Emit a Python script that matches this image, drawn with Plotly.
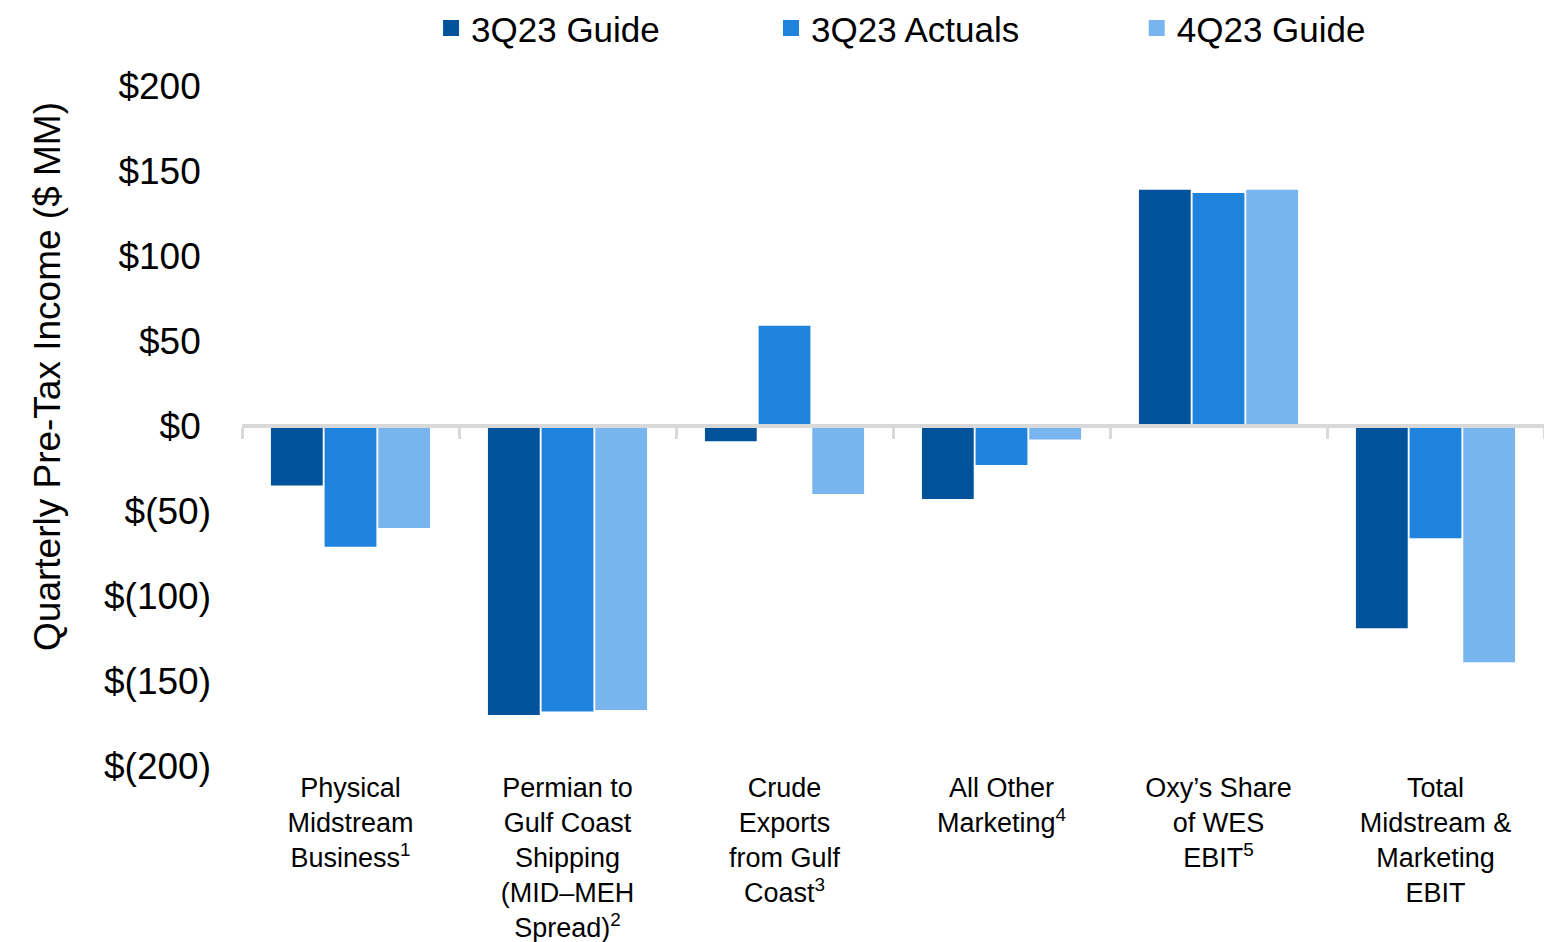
import plotly.graph_objects as go

categories = [
    "Physical<br>Midstream<br>Business<sup>1</sup>",
    "Permian to<br>Gulf Coast<br>Shipping<br>(MID–MEH<br>Spread)<sup>2</sup>",
    "Crude<br>Exports<br>from Gulf<br>Coast<sup>3</sup>",
    "All Other<br>Marketing<sup>4</sup>",
    "Oxy’s Share<br>of WES<br>EBIT<sup>5</sup>",
    "Total<br>Midstream &<br>Marketing<br>EBIT",
]
series_names = ["3Q23 Guide", "3Q23 Actuals", "4Q23 Guide"]
guide_3q23 = [-35, -170, -9, -43, 139, -119]
actuals_3q23 = [-71, -168, 59, -23, 137, -66]
guide_4q23 = [-60, -167, -40, -8, 139, -139]
tick_vals = [200, 150, 100, 50, 0, -50, -100, -150, -200]
tick_text = ["$200\u00a0", "$150\u00a0", "$100\u00a0", "$50\u00a0", "$0\u00a0",
             "$(50)", "$(100)", "$(150)", "$(200)"]
y_title = "Quarterly Pre-Tax Income ($ MM)"

colors = ["#00539B", "#1F83DE", "#78B4EE"]
series_values = [guide_3q23, actuals_3q23, guide_4q23]
legend_ids = ["legend", "legend2", "legend3"]

FONT = "Liberation Sans, Arial, sans-serif"

fig = go.Figure()
for name, vals, col in zip(series_names, series_values, colors):
    fig.add_trace(go.Bar(
        x=categories, y=vals, name=name,
        marker=dict(color=col, line=dict(width=0)),
        showlegend=False,
    ))

# legend entries (square swatches)
for name, col, lg in zip(series_names, colors, legend_ids):
    fig.add_trace(go.Scatter(
        x=[None], y=[None], name=name, mode="markers",
        marker=dict(symbol="square", size=16, color=col),
        legend=lg, hoverinfo="skip",
    ))

# invisible trace carrying the categories for the zero-line axis
fig.add_trace(go.Scatter(x=categories, y=[0] * len(categories), xaxis="x2",
                         mode="none", showlegend=False, hoverinfo="skip"))

n = len(categories)
legend_common = dict(y=1.085, xanchor="left", yanchor="middle", orientation="h",
                     font=dict(size=35), bgcolor="rgba(0,0,0,0)")
fig.update_layout(
    width=1544, height=942,
    margin=dict(l=242, r=0, t=86, b=176, autoexpand=False),
    paper_bgcolor="white", plot_bgcolor="white",
    font=dict(family=FONT, color="black"),
    barmode="group", bargap=0.258, bargroupgap=0.035,
    xaxis=dict(
        type="category", range=[-0.5, n - 0.5], automargin=False,
        showline=False, showgrid=False, zeroline=False, ticks="",
        tickfont=dict(size=27, color="black"), tickangle=0,
        ticklabelstandoff=3,
    ),
    xaxis2=dict(
        type="category", overlaying="x", anchor="free", position=0.5,
        range=[-0.5, n - 0.5], side="bottom", automargin=False,
        showline=True, linecolor="#D9D9D9", linewidth=4,
        ticks="outside", tickson="boundaries", ticklen=11, tickwidth=3,
        tickcolor="#D9D9D9", showticklabels=False, showgrid=False,
        layer="above traces",
    ),
    yaxis=dict(
        range=[-200, 200], tickvals=tick_vals, ticktext=tick_text,
        automargin=False,
        showgrid=False, zeroline=False, showline=False, ticks="",
        tickfont=dict(size=37, color="black"), ticklabelstandoff=30,
    ),
    annotations=[dict(
        text=y_title, xref="paper", yref="paper", x=-0.1498, y=0.5735,
        xanchor="center", yanchor="middle", textangle=-90, showarrow=False,
        font=dict(size=37, color="black"),
    )],
    legend=dict(x=0.1452, **legend_common),
    legend2=dict(x=0.4063, **legend_common),
    legend3=dict(x=0.6872, **legend_common),
)

fig.write_html(
    "out.html",
    config={"displayModeBar": False},
    post_script="document.body.style.margin='0';document.body.style.overflow='hidden';",
)
